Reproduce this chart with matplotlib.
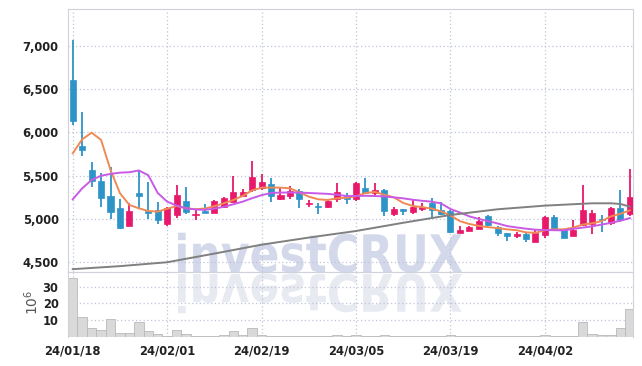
import matplotlib
matplotlib.use("Agg")
import matplotlib.pyplot as plt
import matplotlib.transforms as mtransforms
from matplotlib.textpath import TextPath
from matplotlib.font_manager import FontProperties
from matplotlib.patches import PathPatch

# tick labels (every 10 trading days)
tick_pos = [0, 10, 20, 30, 40, 50]
tick_labels = ["24/01/18", "24/02/01", "24/02/19", "24/03/05", "24/03/19", "24/04/02"]

# daily OHLC
opens = [6605, 5843, 5566, 5439, 5266, 5127, 4923, 5304, 5092, 5104,
         4940, 5040, 5208, 5040, 5096, 5073, 5135, 5200, 5269, 5335,
         5354, 5404, 5231, 5269, 5320, 5175, 5150, 5135, 5227, 5269,
         5227, 5362, 5297, 5335, 5054, 5115, 5085, 5115, 5189, 5104,
         5090, 4842, 4865, 4885, 5035, 4911, 4835, 4807, 4827, 4738,
         4810, 5027, 4873, 4807, 4931, 4942, 5000, 4952, 5131, 5054]
highs = [7067, 6232, 5662, 5535, 5597, 5231, 5189, 5566, 5424, 5200,
         5140, 5393, 5366, 5104, 5173, 5219, 5258, 5497, 5343, 5673,
         5520, 5474, 5354, 5381, 5343, 5219, 5181, 5227, 5412, 5304,
         5424, 5470, 5420, 5346, 5135, 5115, 5227, 5181, 5246, 5200,
         5100, 4919, 4915, 5027, 5046, 4915, 4840, 4850, 4850, 4873,
         5035, 5050, 4885, 4985, 5389, 5100, 5045, 5140, 5335, 5580]
lows = [6086, 5728, 5373, 5142, 5004, 4881, 4920, 5131, 4996, 4942,
        4920, 5008, 5058, 4990, 5065, 5065, 5130, 5195, 5250, 5316,
        5340, 5200, 5219, 5227, 5123, 5135, 5058, 5130, 5200, 5173,
        5211, 5297, 5258, 5038, 5038, 5046, 5058, 5096, 5008, 5050,
        4840, 4835, 4860, 4880, 4915, 4804, 4750, 4785, 4738, 4735,
        4775, 4870, 4777, 4800, 4919, 4825, 4850, 4931, 4969, 5038]
closes = [6136, 5797, 5442, 5246, 5085, 4900, 5092, 5269, 5073, 4992,
          5125, 5277, 5085, 5058, 5073, 5208, 5239, 5308, 5316, 5482,
          5427, 5269, 5277, 5320, 5235, 5189, 5135, 5208, 5308, 5227,
          5412, 5304, 5335, 5092, 5112, 5096, 5135, 5135, 5104, 5054,
          4845, 4873, 4908, 4977, 4930, 4835, 4807, 4827, 4765, 4835,
          5022, 4875, 4784, 4873, 5104, 5070, 4988, 5127, 4992, 5250]

# moving averages
ma_short = [5758, 5920, 5997, 5913, 5566, 5297, 5162, 5123, 5092, 5085,
            5118, 5150, 5123, 5112, 5120, 5148, 5181, 5219, 5266, 5330,
            5362, 5362, 5362, 5354, 5308, 5258, 5227, 5219, 5239, 5245,
            5262, 5300, 5312, 5280, 5250, 5185, 5150, 5137, 5120, 5088,
            5040, 4975, 4942, 4920, 4905, 4895, 4880, 4870, 4845, 4840,
            4870, 4880, 4880, 4900, 4935, 4950, 4975, 5030, 5060, 5100]
ma_mid = [5227, 5354, 5450, 5500, 5520, 5535, 5540, 5560, 5505, 5300,
          5200, 5155, 5123, 5110, 5105, 5120, 5140, 5170, 5200, 5240,
          5275, 5300, 5305, 5305, 5305, 5300, 5295, 5290, 5280, 5265,
          5265, 5268, 5265, 5260, 5250, 5238, 5222, 5210, 5200, 5180,
          5115, 5075, 5030, 5000, 4975, 4948, 4918, 4902, 4888, 4876,
          4872, 4870, 4868, 4885, 4900, 4915, 4935, 4955, 4980, 5010]
ma_long_idx = [0, 5, 10, 15, 20, 25, 30, 35, 40, 45, 50, 55, 57, 58, 59]
ma_long = [4420, 4455, 4500, 4600, 4703, 4785, 4861, 4956, 5046, 5112,
           5154, 5181, 5181, 5173, 5142]

# volume in millions
volume = [35.0, 11.6, 5.0, 3.8, 10.4, 2.0, 2.0, 8.6, 3.2, 1.6,
          0.6, 3.8, 1.6, 0.3, 0.3, 0.3, 0.8, 3.2, 0.8, 5.0,
          0.8, 0.6, 0.4, 0.4, 0.4, 0.4, 0.4, 0.4, 0.8, 0.5,
          1.0, 0.5, 0.5, 0.8, 0.4, 0.4, 0.5, 0.4, 0.4, 0.5,
          1.0, 0.4, 0.3, 0.3, 0.3, 0.3, 0.3, 0.4, 0.4, 0.6,
          1.3, 0.5, 0.5, 0.5, 8.6, 1.6, 1.0, 1.0, 5.0, 16.4]

UP = "#e8196a"
DOWN = "#2e94c8"
GRID = "#bfc4d8"
SPINE = "#cfd2dc"
TXT = "#222222"
tick_fp = FontProperties(family="DejaVu Sans", stretch="condensed", weight="bold", size=9.3)

n = len(opens)
x = list(range(n))
colors = [UP if c >= o else DOWN for o, c in zip(opens, closes)]

fig = plt.figure(figsize=(6.42, 3.66), dpi=100)
ax = fig.add_axes([0.1064, 0.2577, 0.8791, 0.7169])
axv = fig.add_axes([0.1064, 0.0784, 0.8791, 0.1793], sharex=ax)

# watermark text built as a path so it can be stretched and mirrored
fp = FontProperties(family="DejaVu Sans", weight="bold")
tp = TextPath((0, 0), "investCRUX", size=1, prop=fp)
bb = tp.get_extents()
sx = 284 / bb.width
sy = 40 / bb.height
wm = mtransforms.Affine2D().translate(-bb.x0, 0).scale(sx, sy).translate(178, 94)
ax.add_patch(PathPatch(wm.transform_path(tp), transform=mtransforms.IdentityTransform(),
                       facecolor="#d3d8ea", edgecolor="none", zorder=0.5))
wm2 = mtransforms.Affine2D().translate(-bb.x0, 0).scale(sx, -sy).translate(178, 92)
axv.add_patch(PathPatch(wm2.transform_path(tp), transform=mtransforms.IdentityTransform(),
                        facecolor="#e8eaf2", edgecolor="none", zorder=0.5))

# candles
ax.vlines(x, lows, highs, colors=colors, linewidth=1.3, zorder=2)
bottoms = [min(o, c) for o, c in zip(opens, closes)]
heights = [max(abs(c - o), 14) for o, c in zip(opens, closes)]
ax.bar(x, heights, bottom=bottoms, width=0.64, color=colors, edgecolor=colors,
       linewidth=0.5, zorder=3)

ax.plot(x, ma_short, color="#ef8a55", linewidth=1.4, zorder=4)
ax.plot(x, ma_mid, color="#c95ae6", linewidth=1.4, zorder=4)
ax.plot(ma_long_idx, ma_long, color="#808080", linewidth=1.4, zorder=4)

ax.set_xlim(-0.47, 59.3)
ax.set_ylim(4391, 7422)
ax.set_yticks([4500, 5000, 5500, 6000, 6500, 7000])
ax.set_yticklabels([f"{v:,}" for v in [4500, 5000, 5500, 6000, 6500, 7000]])
ax.set_xticks(tick_pos)
ax.tick_params(axis="x", length=0, labelbottom=False)
ax.tick_params(axis="y", length=0, pad=7, labelcolor=TXT)
for lab in ax.get_yticklabels():
    lab.set_fontproperties(tick_fp)
ax.grid(True, color=GRID, linestyle=(0, (1, 2)), linewidth=0.9, zorder=0)
for s in ax.spines.values():
    s.set_color(SPINE)

# volume
axv.bar(x, volume, width=1.0, color="#d9d9d9", edgecolor="#b9b9b9", linewidth=0.6, zorder=2)
axv.set_ylim(-0.3, 39)
axv.set_yticks([10, 20, 30])
axv.set_xticks(tick_pos)
axv.set_xticklabels(tick_labels)
axv.tick_params(axis="both", length=0, labelcolor=TXT)
axv.tick_params(axis="y", pad=7)
axv.tick_params(axis="x", pad=5)
for lab in axv.get_yticklabels() + axv.get_xticklabels():
    lab.set_fontproperties(tick_fp)
axv.grid(True, color=GRID, linestyle=(0, (1, 2)), linewidth=0.9, zorder=0)
for s in axv.spines.values():
    s.set_color(SPINE)
axv.spines["bottom"].set_visible(False)

fig.text(0.05, 0.175, r"$10^6$", rotation=90, ha="center", va="center",
         fontsize=10, color="#555555")

fig.savefig("out.png", dpi=100)
